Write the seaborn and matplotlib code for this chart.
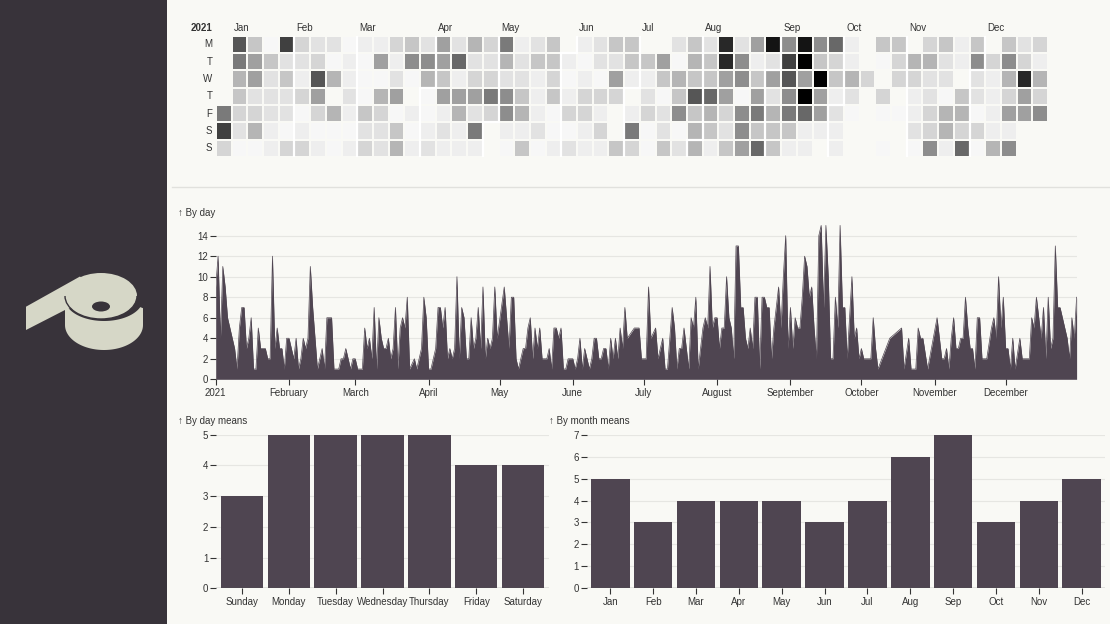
import numpy as np
import pandas as pd
import matplotlib
matplotlib.use("Agg")
import matplotlib.pyplot as plt
from matplotlib.patches import Ellipse, Polygon, Arc
from matplotlib.lines import Line2D
import seaborn as sns

nan = np.nan
YEAR = 2021

# ---- daily values, NaN = no data that day ----
jan = [9, 12, 4, 11, 9, 6, 5, 4, 3, 1, 5, 7, 7, 3, 4, 6, 1, 1, 5, 3, 3, 3, 2, 2, 12, 3, 5, 3, 3, 1, 4]
feb = [4, 3, 2, 4, 1, 2, 4, 3, 4, 11, 7, 4, 1, 2, 3, 1, 6, nan, 6, 1, 1, 1, 2, 2, 3, 2, 1, 2]
mar = [2, 1, 1, 1, 5, 3, 4, 2, 7, 1, 6, 4, 3, 3, 4, 2, 3, 7, 1, 5, 6, 5, 8, 1, nan, 2, 1, 2, 3, 8, 6]
apr = [1, 1, 2, 3, 7, 7, 5, 7, 2, 3, 2, 3, 10, 2, 7, 6, 2, 2, 6, 3, 4, 7, 3, 9, 2, 4, 3, 4, 9, 4]
may = [nan, nan, 9, 6, 3, 8, 8, 2, 1, 2, 3, 3, 5, 6, 2, 5, 3, 5, 2, 2, 2, 3, 1, 5, 5, 4, 5, 1, 1, 2, nan]
jun = [2, 1, 2, 4, 1, 3, 2, 1, 2, 4, 4, 2, 2, 3, 3, 1, 4, 2, 4, 2, 5, 3, 7, 4, nan, nan, 5, 5, 5, 2]
jul = [nan, 2, 9, 4, nan, 5, 2, 3, 4, 1, 1, nan, 7, 5, 1, 3, 3, 5, 3, 1, 6, 5, 8, 1, 3, 5, 6, 5, 11, 5, 6]
aug = [6, 3, 5, 5, 10, 6, 5, 2, 13, 13, 7, 7, 4, 3, 5, 3, 8, 8, 1, 8, 8, 7, 7, 2, 5, 7, 9, 5, 10, 14, 3]
sep = [7, 3, 6, 5, 5, 8, 12, 11, 8, 9, 5, 2, 14, 15, 7, 15, 10, 2, 2, 8, 5, 15, 7, 7, 2, nan, 10, 4, 5, 2]
octo = [3, 2, 2, 2, 2, 6, 3, 1, nan, nan, nan, nan, 4, nan, nan, nan, nan, 5, 1, nan, 4, 1, nan, 1,
        5, 4, 4, nan, 1, nan, nan]
nov = [nan, 6, 4, 2, 2, 3, 1, 4, 6, 3, 3, 4, 4, 8, 5, 3, 3, 1, 6, 6, 2, 2, 2, nan, 5, 6, 4, 10, 5, 8]
dec = [3, 3, 1, 4, 1, nan, 4, 2, 2, 2, 2, 6, 5, 8, 6, 4, 7, 2, 8, 3, 4, 13, 7, 7, nan, nan, 4, 2, 6, 4, 8]

# ---- aggregated bars ----
weekday_labels = ["Sunday", "Monday", "Tuesday", "Wednesday", "Thursday", "Friday", "Saturday"]
weekday_means = [3, 5, 5, 5, 5, 4, 4]
month_labels = ["Jan", "Feb", "Mar", "Apr", "May", "Jun", "Jul", "Aug", "Sep", "Oct", "Nov", "Dec"]
month_means = [5, 3, 4, 4, 4, 3, 4, 6, 7, 3, 4, 5]
weekday_letters = ["M", "T", "W", "T", "F", "S", "S"]
area_month_names = ["2021", "February", "March", "April", "May", "June", "July", "August",
                    "September", "October", "November", "December"]

values = np.array(jan + feb + mar + apr + may + jun + jul + aug + sep + octo + nov + dec, dtype=float)
dates = pd.date_range(f"{YEAR}-01-01", f"{YEAR}-12-31", freq="D")
df = pd.DataFrame({"date": dates, "value": values})

# ---- style ----
BG = "#f9f9f5"
SIDE = "#38333a"
LOGO = "#d6d7c7"
BAR = "#4f4551"
TXT = "#333333"
GRID = "#e6e6e2"

plt.rcParams["font.family"] = ["Liberation Sans", "DejaVu Sans"]
plt.rcParams["font.size"] = 7

W, H = 1110, 624
fig = plt.figure(figsize=(W / 100, H / 100), dpi=100, facecolor=BG)


def box(l, t, r, b):
    return [l / W, 1 - b / H, (r - l) / W, (b - t) / H]


def ftext(x, y, s, **kw):
    kw.setdefault("color", TXT)
    kw.setdefault("fontsize", 7)
    fig.text(x / W, 1 - y / H, s, **kw)


# ---- sidebar with logo ----
axs = fig.add_axes(box(0, 0, 167, 624))
axs.set_xlim(0, 167)
axs.set_ylim(624, 0)
axs.set_facecolor(SIDE)
for sp in axs.spines.values():
    sp.set_visible(False)
axs.set_xticks([])
axs.set_yticks([])
t = np.linspace(0, np.pi, 80)
side_top = np.column_stack([104 - 39 * np.cos(t), 299 + 22 * np.sin(t)])
side_bot = np.column_stack([104 + 39 * np.cos(t), 325 + 25 * np.sin(t)])
axs.add_patch(Polygon(np.vstack([side_top, side_bot]), closed=True, color=LOGO, lw=0))
axs.add_patch(Polygon([(135, 294), (145, 294), (145, 309), (140, 307)], closed=True, color=SIDE, lw=0))
axs.add_patch(Polygon([(26, 306.7), (80, 276.5), (101, 296), (65, 310), (26, 330)], closed=True,
                      color=LOGO, lw=0))
axs.add_patch(Ellipse((101, 296), 72, 46, color=LOGO, lw=0))
axs.add_patch(Arc((101, 296), 72, 46, theta1=0, theta2=180, color=SIDE, lw=1.0))
axs.add_patch(Ellipse((101, 306.5), 18, 10, color=SIDE, lw=0))

# divider
fig.add_artist(Line2D([172 / W, 1], [1 - 187.5 / H] * 2, color="#e1e1dd", lw=1))

# ---- calendar heatmap ----
ncols = 53
grid = np.full((7, ncols), np.nan)
jan1_wd = dates[0].weekday()
for i, (dt, v) in enumerate(zip(dates, values)):
    grid[dt.weekday(), (i + jan1_wd) // 7] = v

CX0, CPX, CY0, CPY = 215.95, 15.7, 35.55, 17.33
axc = fig.add_axes(box(CX0, CY0, CX0 + ncols * CPX, CY0 + 7 * CPY))
axc.set_facecolor(BG)
sns.heatmap(grid, ax=axc, cmap="Greys", vmin=0, vmax=15, cbar=False, linewidths=1.25,
            linecolor=BG, xticklabels=False, yticklabels=False)
axc.tick_params(length=0)
for m in range(2, 13):
    d0 = pd.Timestamp(YEAR, m, 1)
    w = (d0.dayofyear - 1 + jan1_wd) // 7
    r = d0.weekday()
    if r == 0:
        xs, ys = [w, w], [0, 7]
    else:
        xs, ys = [w + 1, w + 1, w, w], [0, r, r, 7]
    axc.plot(xs, ys, color="white", lw=1.6, solid_capstyle="butt", solid_joinstyle="miter", clip_on=False)

ftext(201.5, 28, str(YEAR), ha="center", va="center", fontweight="bold")
for m in range(1, 13):
    d0 = pd.Timestamp(YEAR, m, 1)
    first_monday = d0 + pd.Timedelta(days=(7 - d0.weekday()) % 7)
    col = (first_monday.dayofyear - 1 + jan1_wd) // 7
    ftext(CX0 + 0.75 + col * CPX + 1.5, 28, month_labels[m - 1], ha="left", va="center")
for r, lab in enumerate(weekday_letters):
    ftext(212.5, CY0 + (r + 0.5) * CPY, lab, ha="right", va="center")


def style(ax, ylim, yticks):
    ax.set_facecolor(BG)
    for sp in ax.spines.values():
        sp.set_visible(False)
    ax.set_ylim(*ylim)
    ax.set_yticks(yticks)
    ax.set_yticklabels([str(tk) for tk in yticks])
    ax.tick_params(axis="both", length=4, width=0.8, color=TXT, labelcolor=TXT, labelsize=7, pad=1.5)
    ax.yaxis.grid(True, color=GRID, lw=0.8)
    ax.set_axisbelow(True)
    ax.set_xlabel("")
    ax.set_ylabel("")


# ---- by day area ----
axa = fig.add_axes(box(215.7, 225.4, 1076.6, 379.3))
valid = df.dropna()
axa.fill_between(valid["date"].values, 0, valid["value"].values, color=BAR, lw=0, zorder=2)
sns.lineplot(data=valid, x="date", y="value", color=BAR, lw=0.5, ax=axa, zorder=2)
style(axa, (0, 15), list(range(0, 15, 2)))
axa.set_xlim(dates[0], dates[-1])
month_starts = pd.date_range(f"{YEAR}-01-01", periods=12, freq="MS")
axa.set_xticks(month_starts)
axa.set_xticklabels(area_month_names)
axa.tick_params(axis="x", pad=2)
ftext(178, 212.5, "↑ By day", ha="left", va="center")

# ---- by day means ----
axd = fig.add_axes(box(216, 434.7, 549, 588.3))
sns.barplot(x=weekday_labels, y=weekday_means, color=BAR, saturation=1, width=0.9, errorbar=None, ax=axd, zorder=2)
style(axd, (0, 5), list(range(0, 6)))
axd.set_xlim(-0.55, len(weekday_labels) - 0.45)
axd.axhline(0, color="#555555", lw=0.9, zorder=3)
axd.tick_params(axis="x", pad=2.5)
ftext(178, 421.5, "↑ By day means", ha="left", va="center")

# ---- by month means ----
axm = fig.add_axes(box(586.7, 434.7, 1105.3, 588.3))
sns.barplot(x=month_labels, y=month_means, color=BAR, saturation=1, width=0.9, errorbar=None, ax=axm, zorder=2)
style(axm, (0, 7), list(range(0, 8)))
axm.set_xlim(-0.55, len(month_labels) - 0.45)
axm.axhline(0, color="#555555", lw=0.9, zorder=3)
axm.tick_params(axis="x", pad=2.5)
ftext(549, 421.5, "↑ By month means", ha="left", va="center")

fig.savefig("out.png", dpi=100, facecolor=BG)
